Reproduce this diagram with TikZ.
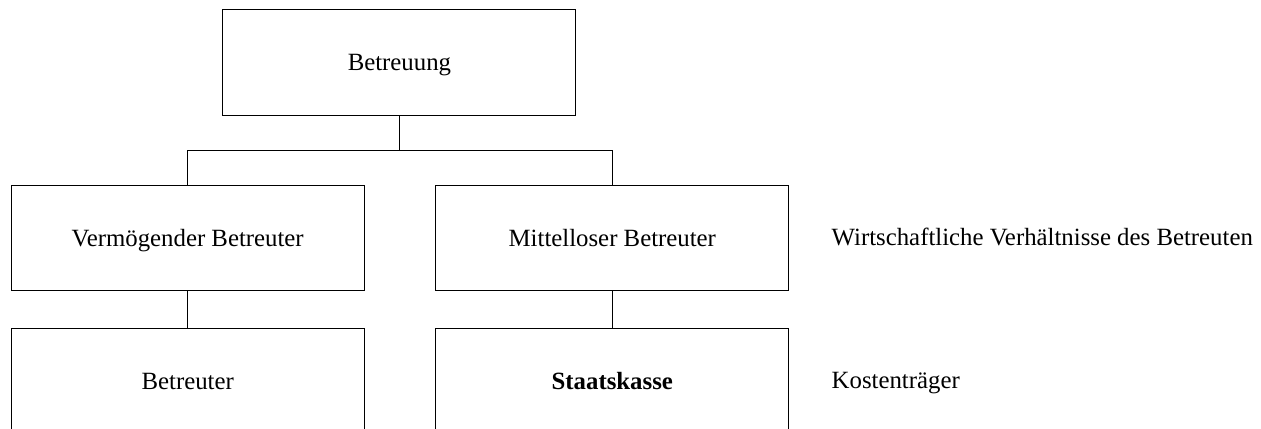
\documentclass[tikz,border=0pt]{standalone}
\usepackage{fontspec}
\setmainfont{Liberation Serif}
\usetikzlibrary{positioning}
\begin{document}
\begin{tikzpicture}[line cap=butt,line join=miter,font=\fontsize{12.4pt}{14pt}\selectfont,
	box/.style={draw,line width=0.5pt,minimum width=176.5pt,minimum height=52.75pt,inner sep=0pt,
		text height=10pt,text depth=1.5pt},
	note/.style={inner sep=0pt,anchor=west,text height=10pt,text depth=2.5pt}]
	\useasboundingbox (0,0) rectangle (630.5pt,-214pt);
	\clip (0,0) rectangle (630.5pt,-214pt);
	
	\node[box] (betreuung) at (199.7pt,-31.15pt) {Betreuung};
	\node[box] (vermoegend) at (93.85pt,-119.1pt) {Vermögender Betreuter};
	\node[box,right=35.3pt of vermoegend] (mittellos) {Mittelloser Betreuter};
	\node[box,below=18.2pt of vermoegend] (betreuer) {Betreuter};
	\node[box,below=18.2pt of mittellos] (staatskasse) {\textbf{Staatskasse}};
	
	\node[note,right=21pt of mittellos] (verhaeltnisse) {Wirtschaftliche Verhältnisse des Betreuten};
	\node[note,right=21pt of staatskasse] (kosten) {Kostenträger};
	
	\foreach \child in {vermoegend,mittellos}{
		\draw[line width=0.5pt] (betreuung.south) -- ++(0,-17.6pt) -| (\child.north);
	}
	\draw[line width=0.5pt] (vermoegend) -- (betreuer);
	\draw[line width=0.5pt] (mittellos) -- (staatskasse);
\end{tikzpicture}
\end{document}
